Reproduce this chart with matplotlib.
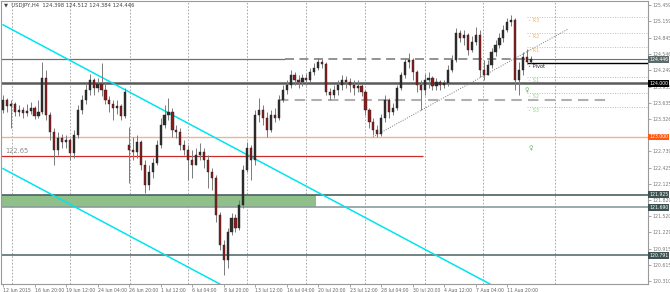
import matplotlib
matplotlib.use("Agg")
import matplotlib.pyplot as plt
import matplotlib.transforms as mtransforms

# USDJPY H4 candles (two H4 bars per drawn candle)
opens = [
    123.50, 123.69, 123.58, 123.61, 123.47, 123.50, 123.45, 123.48, 123.54, 123.39,
    123.47, 124.10, 123.41, 123.09, 122.76, 122.98, 122.91, 122.94, 122.70, 123.04,
    123.50, 123.69, 123.88, 124.06, 123.91, 123.99, 123.88, 123.69, 123.61, 123.54,
    123.58, 123.39, 122.85, 122.76, 122.72, 122.91, 122.48, 122.10, 122.35, 122.51,
    122.85, 123.22, 123.41, 123.47, 123.13, 123.09, 122.85, 122.76, 122.57, 122.48,
    122.66, 122.72, 122.57, 122.35, 122.24, 121.55, 120.99, 120.71, 121.23, 121.49,
    121.30, 121.73, 122.38, 122.79, 122.57, 123.41, 123.50, 123.35, 123.13, 123.41,
    123.35, 123.69, 123.88, 123.97, 124.15, 124.06, 124.02, 124.10, 124.06, 124.21,
    124.29, 124.40, 124.36, 123.84, 123.78, 123.88, 123.97, 124.06, 124.02, 123.97,
    123.91, 123.95, 123.84, 123.50, 123.28, 123.13, 123.06, 123.35, 123.69, 123.47,
    123.54, 123.91, 124.15, 124.40, 124.43, 124.21, 123.97, 123.88, 124.06, 124.10,
    123.95, 124.02, 123.97, 124.00, 124.25, 124.43, 124.94, 124.84, 124.90, 124.62,
    124.77, 124.90, 124.25, 124.15, 124.34, 124.58, 124.71, 124.84, 124.99, 125.14,
    125.18, 124.06, 124.25, 124.49, 124.398,
]
closes = [
    123.69, 123.58, 123.61, 123.47, 123.50, 123.45, 123.48, 123.54, 123.39, 123.47,
    124.10, 123.41, 123.09, 122.76, 122.98, 122.91, 122.94, 122.70, 123.04, 123.50,
    123.69, 123.88, 124.06, 123.91, 123.99, 123.88, 123.69, 123.61, 123.54, 123.58,
    123.39, 123.84, 122.76, 122.72, 122.91, 122.48, 122.10, 122.35, 122.51, 122.85,
    123.22, 123.41, 123.47, 123.13, 123.09, 122.85, 122.76, 122.57, 122.48, 122.66,
    122.72, 122.57, 122.35, 122.24, 121.55, 120.99, 120.71, 121.23, 121.49, 121.30,
    121.73, 122.38, 122.79, 122.57, 123.41, 123.50, 123.35, 123.13, 123.41, 123.35,
    123.69, 123.88, 123.97, 124.15, 124.06, 124.02, 124.10, 124.06, 124.21, 124.29,
    124.40, 124.36, 123.84, 123.78, 123.88, 123.97, 124.06, 124.02, 123.97, 123.91,
    123.95, 123.84, 123.50, 123.28, 123.13, 123.06, 123.35, 123.69, 123.47, 123.54,
    123.91, 124.15, 124.40, 124.43, 124.21, 123.97, 123.88, 124.06, 124.10, 123.95,
    124.02, 123.97, 124.00, 124.25, 124.43, 124.94, 124.84, 124.90, 124.62, 124.77,
    124.90, 124.25, 124.15, 124.34, 124.58, 124.71, 124.84, 124.99, 125.14, 125.18,
    124.06, 124.25, 124.49, 124.40, 124.446,
]
highs = [
    123.78, 123.73, 123.69, 123.65, 123.60, 123.56, 123.61, 123.65, 123.58, 123.69,
    124.40, 124.25, 123.47, 123.17, 123.09, 123.06, 123.04, 122.98, 123.13, 123.60,
    123.78, 123.99, 124.17, 124.10, 124.10, 124.38, 124.02, 123.76, 123.69, 123.69,
    123.61, 123.91, 123.19, 123.00, 123.04, 122.94, 122.57, 122.48, 122.61, 122.94,
    123.35, 123.60, 123.73, 123.54, 123.22, 123.17, 122.94, 122.85, 122.76, 122.79,
    122.89, 122.79, 122.66, 122.42, 122.29, 121.60, 121.08, 121.30, 121.58, 121.56,
    121.83, 122.48, 122.91, 122.85, 123.50, 123.73, 123.60, 123.47, 123.50, 123.54,
    123.78, 123.97, 124.06, 124.25, 124.21, 124.15, 124.17, 124.17, 124.29, 124.38,
    124.47, 124.45, 124.40, 123.91, 123.97, 124.06, 124.15, 124.14, 124.10, 124.06,
    124.06, 123.99, 123.88, 123.54, 123.35, 123.22, 123.43, 123.78, 123.73, 123.63,
    123.97, 124.21, 124.47, 124.56, 124.47, 124.25, 124.06, 124.17, 124.21, 124.14,
    124.10, 124.06, 124.06, 124.34, 124.53, 125.03, 124.99, 124.99, 124.94, 124.88,
    125.05, 124.99, 124.43, 124.43, 124.66, 124.81, 124.94, 125.09, 125.22, 125.27,
    125.22, 124.40, 124.58, 124.64, 124.512,
]
lows = [
    123.45, 123.47, 123.17, 123.39, 123.39, 123.35, 123.39, 123.43, 123.33, 123.35,
    123.43, 123.32, 122.94, 122.48, 122.66, 122.79, 122.79, 122.57, 122.61, 122.98,
    123.43, 123.61, 123.78, 123.78, 123.84, 123.76, 123.61, 123.47, 123.32, 123.43,
    123.32, 123.35, 122.14, 122.57, 122.61, 122.38, 121.96, 122.01, 122.24, 122.48,
    122.79, 123.17, 123.32, 123.00, 122.98, 122.76, 122.66, 122.20, 122.24, 122.48,
    122.57, 122.42, 122.05, 122.01, 121.42, 120.89, 120.43, 120.56, 121.17, 121.23,
    121.27, 121.68, 122.35, 122.20, 122.48, 123.28, 123.22, 123.00, 123.09, 123.28,
    123.32, 123.65, 123.80, 123.91, 123.97, 123.91, 123.95, 123.97, 124.02, 124.15,
    124.25, 124.29, 123.78, 123.69, 123.73, 123.78, 123.88, 123.91, 123.84, 123.78,
    123.84, 123.76, 123.41, 123.17, 123.04, 123.00, 123.02, 123.28, 123.35, 123.41,
    123.50, 123.88, 124.10, 124.29, 124.06, 123.84, 123.50, 123.78, 123.91, 123.88,
    123.88, 123.88, 123.91, 123.95, 124.21, 124.40, 124.77, 124.71, 124.53, 124.58,
    124.71, 124.12, 124.06, 124.15, 124.29, 124.51, 124.66, 124.77, 124.96, 125.07,
    123.88, 123.78, 124.15, 124.36, 124.384,
]

date_labels = ["12 Jun 2015", "16 Jun 20:00", "19 Jun 12:00", "24 Jun 04:00",
               "26 Jun 20:00", "1 Jul 12:00", "6 Jul 04:00", "8 Jul 20:00",
               "13 Jul 12:00", "16 Jul 04:00", "20 Jul 20:00", "23 Jul 12:00",
               "28 Jul 04:00", "30 Jul 20:00", "4 Aug 12:00", "7 Aug 04:00",
               "11 Aug 20:00"]
label_every = 8
week_starts = [2.3, 17.0, 32.2, 47.0, 61.9, 76.9, 91.9, 107.1, 121.8, 140.1]

price_ticks = [125.459, 125.159, 124.845, 124.546, 124.249, 123.935, 123.635,
               123.326, 122.739, 122.425, 122.125, 121.820, 121.520, 121.229,
               120.915, 120.615, 120.310]

# price channel (two parallel lines) and rising trendline
chan_x = [0, 164]
chan_upper = [125.09, 118.68]
chan_lower = [122.41, 116.00]
trend_x = [93.9, 143.4]
trend_y = [123.00, 125.01]

# horizontal levels
bid_level = 124.446
round_level = 124.000
orange_level = 123.000
red_level = 122.65
zone_top, zone_bottom = 121.925, 121.690
low_level = 120.791
dash_level = 123.688

pivot_names = ["R3", "R2", "R1", "Pivot", "S1", "S2", "S3"]
pivot_levels = [125.23, 124.93, 124.67, 124.38, 124.11, 123.81, 123.55]
pivot_start = 133
fractal_x = [133, 134]
fractal_y = [123.86, 122.79]

box_levels = [bid_level, round_level, orange_level, zone_top, zone_bottom, low_level]
box_colors = ["#5d6a6a", "#000000", "#ff5a14", "#3d5252", "#3d5252", "#3d5252"]

XMIN, XMAX = -0.51, 163.7
YMIN, YMAX = 120.269, 125.533
SMALL = 3.3

fig = plt.figure(figsize=(6.7, 2.92), dpi=100)
ax = fig.add_axes([1 / 670, 8.5 / 292, 647 / 670, 282.5 / 292])
ax.set_xlim(XMIN, XMAX)
ax.set_ylim(YMIN, YMAX)

# weekly grid
for w in week_starts:
    ax.axvline(w, color="#9a9a9a", lw=0.6, ls=(0, (2, 2)), zorder=0)

# levels
ax.fill_between([XMIN, 79.4], zone_bottom, zone_top, color="#8fc08a", lw=0, zorder=1)
ax.axhline(zone_top, color="#4b6060", lw=1.2, zorder=2)
ax.axhline(zone_bottom, color="#8c9c9c", lw=1.2, zorder=2)
ax.axhline(low_level, color="#5a6e6e", lw=1.2, zorder=2)
ax.axhline(orange_level, color="#f7ae96", lw=1.0, zorder=2)
ax.axhline(round_level, color="#5a5a5a", lw=1.8, zorder=2)
ax.hlines(red_level, XMIN, 106.6, color="#cc2b2b", lw=0.9, zorder=2)
ax.hlines(bid_level, XMIN, 71.6, color="#707070", lw=0.9, zorder=2)
ax.hlines(bid_level, 71.6, pivot_start, color="#8a8a8a", lw=1.3,
          linestyles=[(0, (5, 3))], zorder=2)
ax.hlines(bid_level + 0.015, pivot_start, XMAX, color="#707070", lw=0.8, zorder=2)
ax.hlines(dash_level, 69.8, 153.3, color="#b0b0b0", lw=1.5,
          linestyles=[(0, (5, 3))], zorder=2)
ax.text(0.5, red_level + 0.03, "122.65", fontsize=4.8, color="#8a8a8a", va="bottom")

# channel + trendline
ax.plot(chan_x, chan_upper, color="#00e5ee", lw=1.1, zorder=3)
ax.plot(chan_x, chan_lower, color="#00e5ee", lw=1.1, zorder=3)
ax.plot(trend_x, trend_y, color="#777777", lw=0.7, ls=(0, (1, 1.5)), zorder=3)

# candles
idx = list(range(len(closes)))
ax.vlines(idx, lows, highs, color="#7a7a7a", lw=0.7, zorder=4)
bottoms = [min(o, c) for o, c in zip(opens, closes)]
heights = [max(abs(c - o), 0.012) for o, c in zip(opens, closes)]
colors = ["#2e2e2e" if c >= o else "#8e1c1c" for o, c in zip(opens, closes)]
ax.bar(idx, heights, bottom=bottoms, width=0.55, color=colors,
       edgecolor="#222222", linewidth=0.3, zorder=5)

# pivot levels
for name, lvl in zip(pivot_names, pivot_levels):
    if name == "Pivot":
        ax.hlines(lvl, pivot_start, XMAX, color="black", lw=1.0, zorder=3)
        col = "#222222"
    else:
        col = "#f5b56a" if name.startswith("R") else "#8fd98f"
        ax.hlines(lvl, pivot_start, XMAX, color=col, lw=0.7,
                  linestyles=[(0, (1, 1.5))], zorder=3)
    ax.text(pivot_start + 0.3, lvl - 0.065, "◦ " + name, fontsize=SMALL + 0.3,
            color=col, va="center", ha="left", zorder=6)
for fx, fy in zip(fractal_x, fractal_y):
    ax.text(fx, fy, "♀", fontsize=4.5, color="#5cbf5c", ha="center", va="center", zorder=6)

# axes styling
for sp in ax.spines.values():
    sp.set_color("#9a9a9a")
    sp.set_linewidth(0.8)
ax.yaxis.tick_right()
ax.set_yticks(price_ticks)
ax.set_yticklabels([f"{p:.3f}" for p in price_ticks])
ax.tick_params(axis="y", labelsize=SMALL, labelcolor="#777777", color="#999999",
               length=2, width=0.6, pad=1.0)
ticks = [k * label_every for k in range(len(date_labels))]
ax.set_xticks(ticks)
ax.set_xticklabels(date_labels, ha="left")
ax.tick_params(axis="x", labelsize=SMALL, labelcolor="#666666", color="#999999",
               length=2, width=0.6, pad=1.2)

trans = mtransforms.blended_transform_factory(ax.transAxes, ax.transData)
for lvl, col in zip(box_levels, box_colors):
    ax.text(1.002, lvl, f"{lvl:.3f}", transform=trans, fontsize=SMALL, color="white",
            va="center", ha="left", zorder=10, clip_on=False,
            bbox=dict(boxstyle="square,pad=0.2", fc=col, ec="none"))

fig.text(4 / 670, 1 - 5 / 292, "▼  USDJPY,H4  124.398 124.512 124.384 124.446",
         fontsize=3.8, color="#444444", va="center", ha="left")

fig.savefig("out.png", dpi=100)
